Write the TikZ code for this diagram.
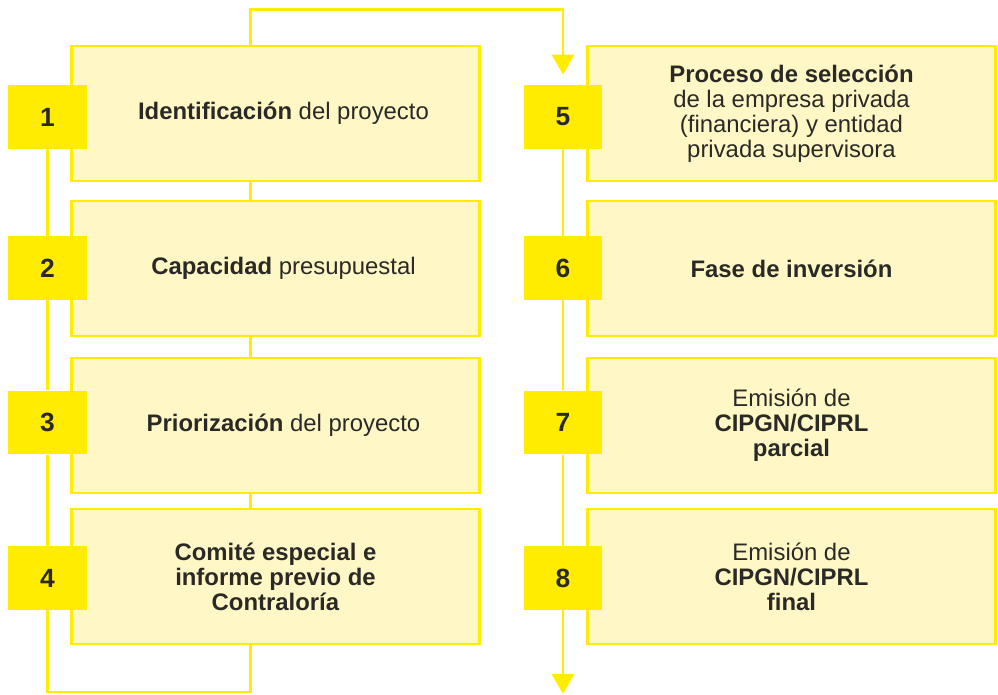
\documentclass[tikz,border=0pt]{standalone}
\usepackage{fontspec}
\setmainfont{Liberation Sans}
\usetikzlibrary{positioning,arrows.meta}
\definecolor{stageyellow}{RGB}{255,236,0}
\definecolor{stagefill}{RGB}{255,248,198}
\definecolor{stagetext}{RGB}{43,41,38}
\tikzset{
    stage box/.style={rectangle, draw=stageyellow, line width=1.4pt, fill=stagefill, minimum width=8.16cm, minimum height=2.69cm, inner sep=0pt, align=center, text=stagetext, font=\fontsize{13.6}{14.2}\selectfont},
    number box/.style={rectangle, fill=stageyellow, minimum width=1.58cm, minimum height=1.28cm, inner sep=0pt, text=stagetext, font=\fontsize{15}{17}\selectfont\bfseries},
    link/.style={draw=stageyellow, line width=1.7pt},
    flow arrow/.style={link, -{Triangle[width=0.44cm, length=0.4cm]}}
}

\begin{document}
\begin{tikzpicture}[x=0.02cm, y=-0.02cm]
    \useasboundingbox (0,0) rectangle (998,695);

    % Left column of stages
    \node[stage box] (b1) at (275.5,113.5) {\kern0.32cm\textbf{Identificación} del proyecto};
    \node[stage box] (b2) at (275.5,268.5) {\kern0.32cm\textbf{Capacidad} presupuestal};
    \node[stage box] (b3) at (275.5,425.5) {\kern0.32cm\textbf{Priorización} del proyecto};
    \node[stage box] (b4) at (275.5,576.5) {\textbf{Comité especial e}\\\textbf{informe previo de}\\\textbf{Contraloría}};

    % Right column of stages
    \node[stage box] (b5) at (791.5,113.5) {\textbf{Proceso de selección}\\de la empresa privada\\(financiera) y entidad\\privada supervisora};
    \node[stage box] (b6) at (791.5,268.5) {\textbf{Fase de inversión}};
    \node[stage box] (b7) at (791.5,425.5) {Emisión de\\\textbf{CIPGN/CIPRL}\\\textbf{parcial}};
    \node[stage box] (b8) at (791.5,576.5) {Emisión de\\\textbf{CIPGN/CIPRL}\\\textbf{final}};

    % Numbers
    \foreach \n/\y in {1/117,2/268,3/422.5,4/578} {
        \node[number box] (n\n) at (47.5,\y) {\n};
    }
    \foreach \n/\y in {5/117,6/268,7/422.5,8/578} {
        \node[number box] (n\n) at (563,\y) {\n};
    }

    % Links between boxes and numbers
    \foreach \a/\b in {1/2,2/3,3/4} {
        \draw[link] ([xshift=-0.5cm]b\a.south) -- ([xshift=-0.5cm]b\b.north);
    }
    \foreach \a/\b in {1/2,2/3,3/4,5/6,6/7,7/8} {
        \draw[link] (n\a) -- (n\b);
    }

    % Loop at the bottom and jump to the right column
    \coordinate (bottom) at (0,692);
    \coordinate (top) at (0,10);
    \coordinate (end) at (563,694);
    \draw[link] ([xshift=-0.5cm]b4.south) -- ([xshift=-0.5cm]b4.south |- bottom) -| (n4.south);
    \draw[flow arrow, shorten >=0.2cm] ([xshift=-0.5cm]b1.north) -- ([xshift=-0.5cm]b1.north |- top) -| (n5.north);
    \draw[flow arrow] (n8.south) -- (end);
\end{tikzpicture}
\end{document}
